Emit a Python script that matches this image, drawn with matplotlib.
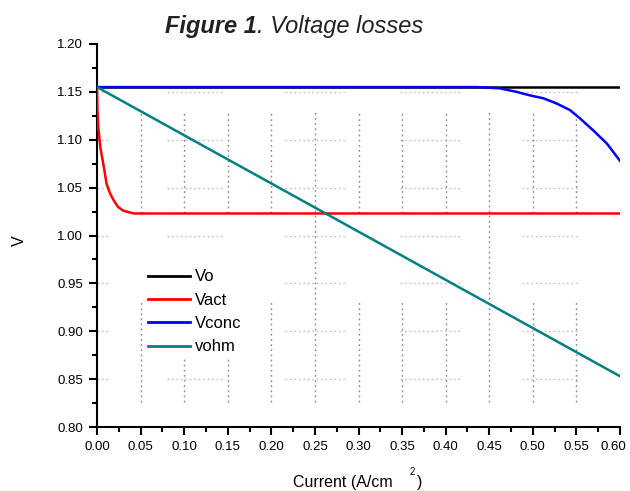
import matplotlib
matplotlib.use("Agg")
import matplotlib.pyplot as plt
from matplotlib.ticker import MultipleLocator, FormatStrFormatter, FuncFormatter

plt.rcParams['font.family'] = ['Liberation Sans', 'DejaVu Sans']

# ---- data ----
vo_x = [0.0, 0.60]
vo_y = [1.155, 1.155]

vact_x = [0.0, 0.0005, 0.0015, 0.004, 0.0072, 0.011, 0.015, 0.019, 0.024, 0.030, 0.042, 0.60]
vact_y = [1.155, 1.131, 1.113, 1.091, 1.075, 1.054, 1.044, 1.037, 1.030, 1.026, 1.023, 1.023]

vconc_x = [0.0, 0.436, 0.462, 0.4815, 0.495, 0.512, 0.527, 0.5426, 0.554, 0.569, 0.585, 0.600]
vconc_y = [1.155, 1.155, 1.1537, 1.150, 1.1467, 1.1433, 1.138, 1.131, 1.1224, 1.110, 1.096, 1.078]

vohm_x = [0.0, 0.2615, 0.60]
vohm_y = [1.155, 1.0234, 0.853]

series_labels = ["Vo", "Vact", "Vconc", "vohm"]
series_colors = ["#000000", "#ff0000", "#0000ff", "#008080"]

x_max = 0.60

# grid artefacts of the original (dotted, broken)
hgrid_y = [0.85, 0.90, 0.95, 1.00, 1.05, 1.10, 1.15]
hgrid_spans = [(0.0, 0.0126), (0.0803, 0.1468), (0.2157, 0.2845), (0.3476, 0.4187), (0.4876, 0.5541)]
vgrid_x = [0.05, 0.10, 0.15, 0.20, 0.25, 0.30, 0.35, 0.40, 0.45, 0.50, 0.55]
vgrid_full = [0.25, 0.45]

W, H = 630, 491
fig = plt.figure(figsize=(W / 100, H / 100), dpi=100)
ax = fig.add_axes([97 / W, 1 - 427 / H, (620 - 97) / W, (427 - 44) / H])

# grid
for y in hgrid_y:
    for a, b in hgrid_spans:
        ax.plot([a, b], [y, y], color="#c4c4c4", lw=1.0, ls=(0, (1.3, 1.9)), zorder=1)
for x in vgrid_x:
    if x in vgrid_full:
        segs = [(0.826, 1.129)]
    else:
        segs = [(1.0235, 1.129), (0.826, 0.933)]
    for a, b in segs:
        ax.plot([x, x], [a, b], color="#8c8c8c", lw=1.0, ls=(0, (1.3, 2.4)), zorder=1)

lines = []
for xs, ys, lab, col in zip([vo_x, vact_x, vconc_x, vohm_x],
                            [vo_y, vact_y, vconc_y, vohm_y],
                            series_labels, series_colors):
    l, = ax.plot(xs, ys, color=col, lw=1.8, label=lab, zorder=3)
    lines.append(l)

ax.set_xlim(0, x_max)
ax.set_ylim(0.80, 1.20)
ax.xaxis.set_major_locator(MultipleLocator(0.05))
ax.xaxis.set_minor_locator(MultipleLocator(0.025))
ax.yaxis.set_major_locator(MultipleLocator(0.05))
ax.yaxis.set_minor_locator(MultipleLocator(0.025))
# last x label is drawn separately, nudged left so it stays inside the figure
ax.xaxis.set_major_formatter(FuncFormatter(lambda v, p: "" if abs(v - x_max) < 1e-9 else f"{v:.2f}"))
ax.yaxis.set_major_formatter(FormatStrFormatter('%.2f'))
ax.annotate(f"{x_max:.2f}", xy=(x_max, 0), xycoords=('data', 'axes fraction'),
            xytext=(-4.5, -10), textcoords='offset points', ha='center', va='top',
            fontsize=9.5, color='black', annotation_clip=False)

for s in ['top', 'right']:
    ax.spines[s].set_visible(False)
for s in ['left', 'bottom']:
    ax.spines[s].set_linewidth(1.5)
    ax.spines[s].set_color('black')

ax.tick_params(which='major', direction='out', length=6, width=1.5, labelsize=9.5, pad=4, colors='black')
ax.tick_params(which='minor', direction='out', length=3.5, width=1.5)

leg = ax.legend(handles=lines, loc='upper left', bbox_to_anchor=((145 - 97) / 523, (427 - 266) / 383),
                frameon=True, facecolor='white', edgecolor='none', framealpha=1.0, fancybox=False,
                fontsize=12, handlelength=2.5, handletextpad=0.3, labelspacing=0.5,
                borderpad=0.2, borderaxespad=0)
leg.set_zorder(2)
for lh in leg.get_lines():
    lh.set_linewidth(2.0)

# title
t1 = fig.text(165 / W, 1 - 33 / H, "Figure 1", fontsize=17, fontweight='bold', fontstyle='italic',
              color='#222222', ha='left', va='baseline')
fig.canvas.draw()
bb = t1.get_window_extent()
fig.text(bb.x1 / W, 1 - 33 / H, ". Voltage losses", fontsize=17, fontstyle='italic',
         color='#222222', ha='left', va='baseline')

# axis labels
fig.text(19 / W, 1 - 241 / H, "V", fontsize=11.5, rotation=90, ha='center', va='center')
fig.text(293 / W, 1 - 487 / H, "Current (A/cm", fontsize=11.5, ha='left', va='baseline')
fig.text(410 / W, 1 - 475 / H, "2", fontsize=7, ha='left', va='baseline')
fig.text(417 / W, 1 - 487 / H, ")", fontsize=11.5, ha='left', va='baseline')

fig.savefig("out.png", dpi=100)
